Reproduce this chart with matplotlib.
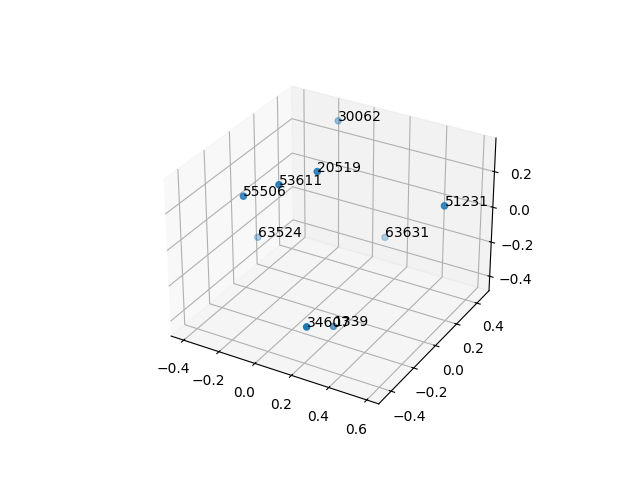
import matplotlib
matplotlib.use('Agg')
import matplotlib.pyplot as plt

labels = ["30062", "20519", "53611", "55506", "63524", "63631", "51231", "34607", "1339"]
xs = [-0.161, 0.046, -0.070, -0.251, -0.40, 0.125, 0.59, 0.241, 0.200]
ys = [0.457, -0.048, -0.187, -0.211, 0.108, 0.432, 0.176, -0.441, -0.153]
zs = [0.30, 0.33, 0.30, 0.20, -0.252, -0.28, 0.176, -0.24, -0.43]

fig = plt.figure(figsize=(6.4, 4.8), dpi=100)
ax = fig.add_subplot(projection='3d')
ax.scatter(xs, ys, zs)

# label each point with its id
for x, y, z, lab in zip(xs, ys, zs, labels):
    ax.text(x, y, z, lab)

plt.savefig("out.png")
